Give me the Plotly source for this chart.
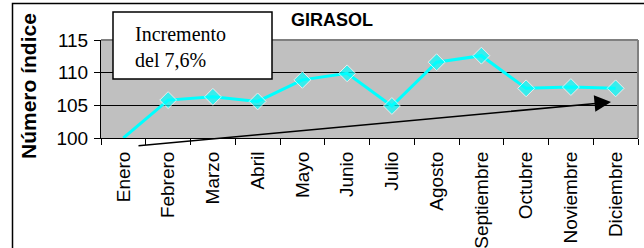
import plotly.graph_objects as go

# ---- data ----
months = ["Enero", "Febrero", "Marzo", "Abril", "Mayo", "Junio", "Julio",
          "Agosto", "Septiembre", "Octubre", "Noviembre", "Diciembre"]
index_values = [100.0, 105.8, 106.3, 105.6, 108.9, 109.9, 104.9,
                111.6, 112.6, 107.6, 107.8, 107.6]
y_ticks = [100, 105, 110, 115]
chart_title = "GIRASOL"
y_title = "Número índice"
note_text = "Incremento<br>del 7,6%"

# ---- layout geometry (pixels) ----
W, H = 644, 248
L, R, T, B = 101, 6, 40, 110
PW, PH = W - L - R, H - T - B

def px(x):
    return (x - L) / PW

def py(y):
    return (H - B - y) / PH

ymin, ymax = y_ticks[0], y_ticks[-1]
marker_sizes = [0 if v <= ymin else 13 for v in index_values]

font = "Liberation Sans, Arial, sans-serif"

fig = go.Figure()
fig.add_trace(go.Scatter(
    x=months, y=index_values, mode="lines+markers",
    line=dict(color="#00FFFF", width=3),
    marker=dict(symbol="diamond", size=marker_sizes, color="#00FFFF"),
    cliponaxis=True, showlegend=False, hoverinfo="skip",
))

fig.update_layout(
    width=W, height=H,
    margin=dict(l=L, r=R, t=T, b=B, autoexpand=False),
    paper_bgcolor="white", plot_bgcolor="#C0C0C0",
    font=dict(family=font, color="black"),
    xaxis=dict(
        type="category", tickangle=-90, tickson="boundaries",
        ticks="outside", ticklen=6, tickcolor="black", tickwidth=1,
        showline=True, linecolor="black", linewidth=1,
        showgrid=False, tickfont=dict(size=19, family=font),
        ticklabelstandoff=5,
        range=[-0.5, len(months) - 0.5], fixedrange=True,
    ),
    yaxis=dict(
        range=[ymin, ymax], tickvals=y_ticks,
        ticks="outside", ticklen=6, tickcolor="black", tickwidth=1,
        showline=True, linecolor="black", linewidth=1,
        showgrid=True, gridcolor="black", gridwidth=1,
        zeroline=False, tickfont=dict(size=19, family=font),
        ticklabelstandoff=2,
        fixedrange=True,
    ),
)

shapes = [
    # plot-area gray border (top and right)
    dict(type="line", xref="paper", yref="paper", x0=0, x1=1, y0=1, y1=1,
         line=dict(color="#808080", width=2)),
    dict(type="line", xref="paper", yref="paper", x0=1, x1=1, y0=0, y1=1,
         line=dict(color="#808080", width=2)),
    # outer chart border
    dict(type="path", xref="paper", yref="paper",
         path=f"M {px(12.5)} {py(260)} L {px(12.5)} {py(3.5)} L {px(650)} {py(3.5)}",
         line=dict(color="black", width=1.5)),
    # note box
    dict(type="rect", xref="paper", yref="paper",
         x0=px(113), x1=px(272), y0=py(79), y1=py(12),
         fillcolor="white", line=dict(color="black", width=1.5), layer="above"),
]
fig.update_layout(shapes=shapes)

annotations = [
    dict(text=f"<b>{chart_title}</b>", xref="paper", yref="paper",
         x=px(332), y=py(20), showarrow=False, xanchor="center", yanchor="middle",
         font=dict(size=18, family=font)),
    dict(text=f"<b>{y_title}</b>", xref="paper", yref="paper",
         x=px(28), y=py(86), showarrow=False, textangle=-90,
         xanchor="center", yanchor="middle", font=dict(size=21, family=font)),
    dict(text=note_text, xref="paper", yref="paper",
         x=px(133), y=py(47), showarrow=False, xanchor="left", yanchor="middle",
         align="left", font=dict(size=20, family="Liberation Serif, Times New Roman, serif")),
    # trend arrow (tail offset in pixels)
    dict(text="", xref="paper", yref="paper", axref="pixel", ayref="pixel",
         x=px(611), y=py(102), ax=137 - 611, ay=146 - 102,
         showarrow=True, arrowhead=2, arrowsize=2.2, arrowwidth=1.5,
         arrowcolor="black"),
]
fig.update_layout(annotations=annotations)

fig.write_html("out.html", config={"displayModeBar": False, "staticPlot": True},
               post_script="document.body.style.margin='0';")
